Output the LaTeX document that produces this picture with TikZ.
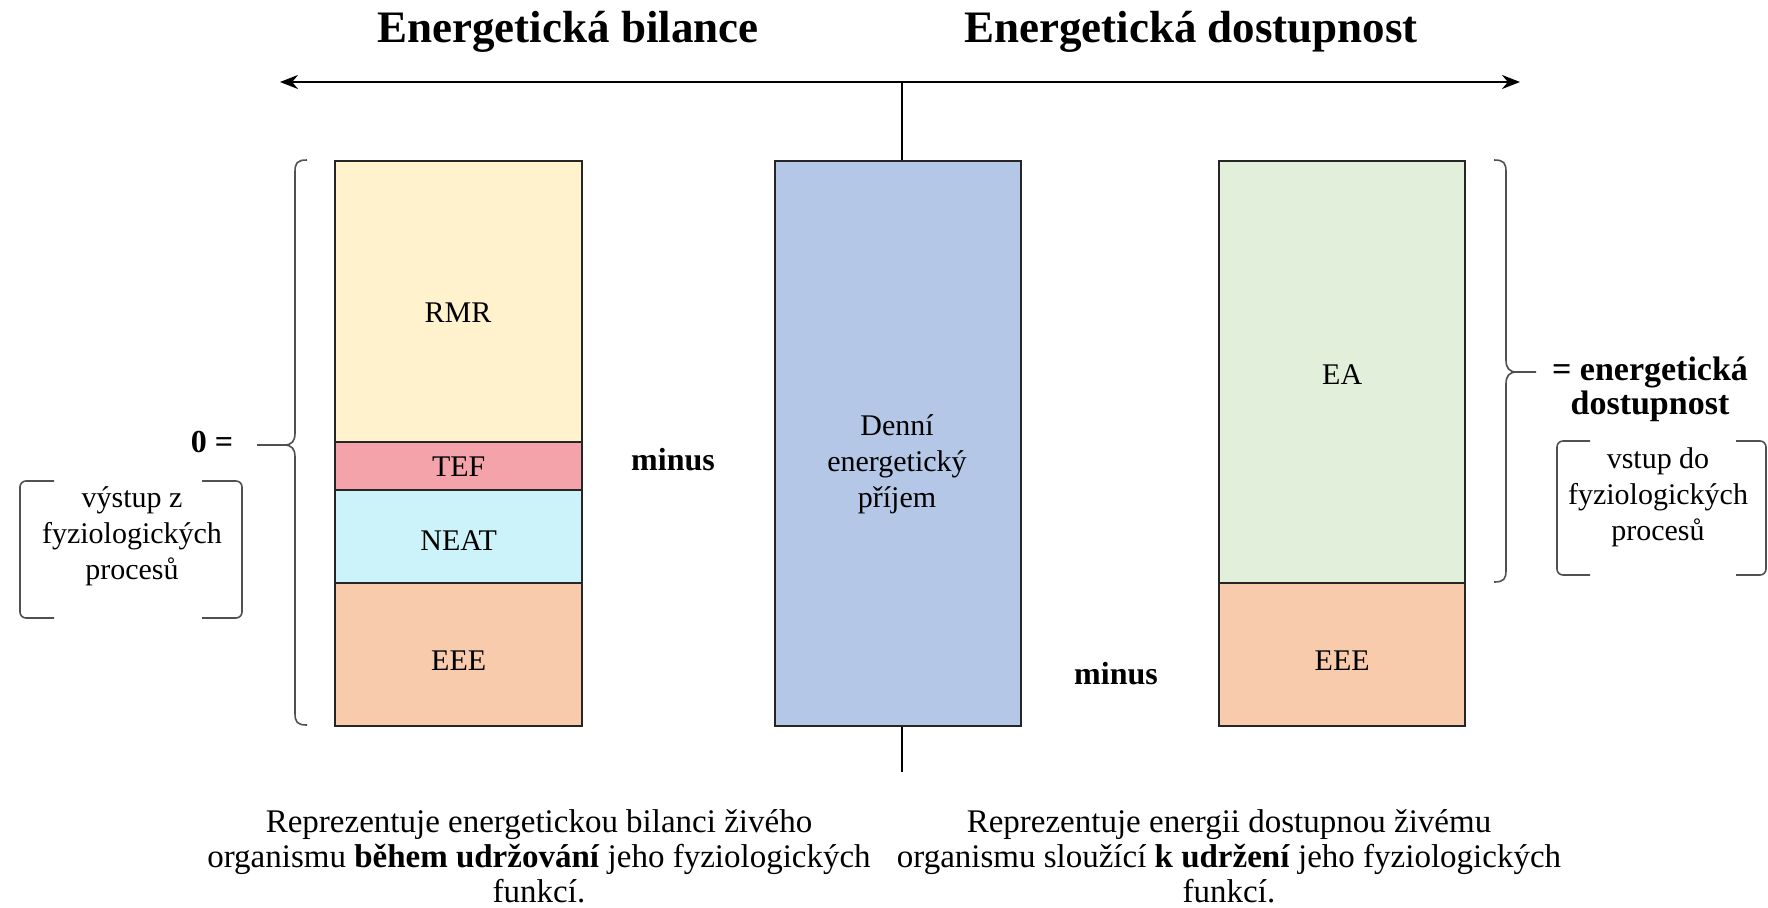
\documentclass[tikz,border=0pt]{standalone}
\usepackage{fontspec}
\setmainfont{Liberation Serif}
\usetikzlibrary{arrows.meta}
\definecolor{rmrc}{HTML}{FFF2CC}
\definecolor{tefc}{HTML}{F4A3AB}
\definecolor{neatc}{HTML}{CCF3FA}
\definecolor{eeec}{HTML}{F8CBAD}
\definecolor{dinc}{HTML}{B4C7E7}
\definecolor{eac}{HTML}{E2EFDA}
\definecolor{bracec}{HTML}{505050}
\tikzset{
  seg/.style={draw=black!85, line width=1.2pt, anchor=north west, inner sep=0pt},
  body/.style={font=\fontsize{15}{18}\selectfont, align=center, inner sep=0pt},
  bodyb/.style={font=\fontsize{16}{17}\selectfont\bfseries, align=center, inner sep=0pt},
  title/.style={font=\fontsize{22.5}{25}\selectfont\bfseries, inner sep=0pt},
  foot/.style={font=\fontsize{16.5}{17.5}\selectfont, align=center, inner sep=0pt},
  brace/.style={draw=bracec, line width=0.8pt},
  axis/.style={draw=black, line width=1.1pt},
}
\begin{document}
\begin{tikzpicture}[x=0.5pt, y=-0.5pt]
\useasboundingbox (0,0) rectangle (1768,907);

% headings
\node[title] (tbil) at (568,32) {Energetická bilance};
\node[title] (tdos) at (1191,32) {Energetická dostupnost};

% horizontal axis with arrows at both ends
\coordinate (axl) at (280,82);
\coordinate (axr) at (1520,82);
\coordinate (axm) at (902,82);
\draw[axis, {Stealth[length=9pt,width=7pt]}-{Stealth[length=9pt,width=7pt]}] (axl) -- (axr);

% left column: expenditure components
\node[seg, fill=rmrc, minimum width=123.5pt, minimum height=140.5pt] (rmr) at (334,160) {};
\node[seg, fill=tefc, minimum width=123.5pt, minimum height=24pt] (tef) at (334,441) {};
\node[seg, fill=neatc, minimum width=123.5pt, minimum height=46.5pt] (neat) at (334,489) {};
\node[seg, fill=eeec, minimum width=123.5pt, minimum height=71.5pt] (eeel) at (334,582) {};
\node[body] (trmr) at (458,313) {RMR};
\node[body] (ttef) at (tef.center) {TEF};
\node[body] (tneat) at ([yshift=-2pt]neat.center) {NEAT};
\node[body] (teeel) at ([yshift=-3pt]eeel.center) {EEE};

% middle column: daily intake
\node[seg, fill=dinc, minimum width=123pt, minimum height=282.5pt] (din) at (774,160) {};
\node[body] (tdin) at (897,464) {Denní\\energetický\\příjem};

% right column: availability
\node[seg, fill=eac, minimum width=123pt, minimum height=211pt] (ea) at (1218,160) {};
\node[seg, fill=eeec, minimum width=123pt, minimum height=71.5pt] (eeer) at (1218,582) {};
\node[body] (tea) at ([yshift=-1pt]ea.center) {EA};
\node[body] (teeer) at ([yshift=-3pt]eeer.center) {EEE};

% central stem
\coordinate (stemb) at (902,772);
\draw[axis] (axm) -- (din.north -| axm);
\draw[axis] (din.south -| axm) -- (stemb);

% operators
\node[bodyb] (minus1) at (673,460) {minus};
\node[bodyb] (minus2) at (1116,674) {minus};
\node[bodyb] (zero) at (212,442) {0 =};

% left brace
\coordinate (lbt) at (307,160);
\coordinate (lbb) at (307,725);
\coordinate (lbtip) at (257,445);
\draw[brace] (lbt) .. controls (297,160) and (295,163) .. (295,172) -- (295,433)
  .. controls (295,441) and (292,445) .. (284,445) -- (lbtip);
\draw[brace] (284,445) .. controls (292,445) and (295,449) .. (295,457) -- (295,713)
  .. controls (295,722) and (297,725) .. (lbb);

% right brace
\coordinate (rbt) at (1494,160);
\coordinate (rbb) at (1494,582);
\coordinate (rbtip) at (1536,372);
\draw[brace] (rbt) .. controls (1504,160) and (1506,163) .. (1506,172) -- (1506,360)
  .. controls (1506,368) and (1509,372) .. (1517,372) -- (rbtip);
\draw[brace] (1517,372) .. controls (1509,372) and (1506,376) .. (1506,384) -- (1506,570)
  .. controls (1506,579) and (1504,582) .. (rbb);

\node[bodyb, font=\fontsize{17}{17}\selectfont\bfseries] (eqea) at (1650,389) {= energetická\\dostupnost};

% output bracket
\node[body] (out) at (132,536) {výstup z\\fyziologických\\procesů};
\draw[brace, rounded corners=3pt] (54,481) -- (20,481) -- (20,618) -- (54,618);
\draw[brace, rounded corners=3pt] (202,481) -- (242,481) -- (242,618) -- (202,618);

% input bracket
\node[body] (inp) at (1658,497) {vstup do\\fyziologických\\procesů};
\draw[brace, rounded corners=3pt] (1590,441) -- (1557,441) -- (1557,575) -- (1590,575);
\draw[brace, rounded corners=3pt] (1736,441) -- (1766,441) -- (1766,575) -- (1736,575);

% captions
\node[foot] (capl) at (539,856) {Reprezentuje energetickou bilanci živého\\organismu \textbf{během udržování} jeho fyziologických\\funkcí.};
\node[foot] (capr) at (1229,856) {Reprezentuje energii dostupnou živému\\organismu sloužící \textbf{k udržení} jeho fyziologických\\funkcí.};
\end{tikzpicture}
\end{document}
